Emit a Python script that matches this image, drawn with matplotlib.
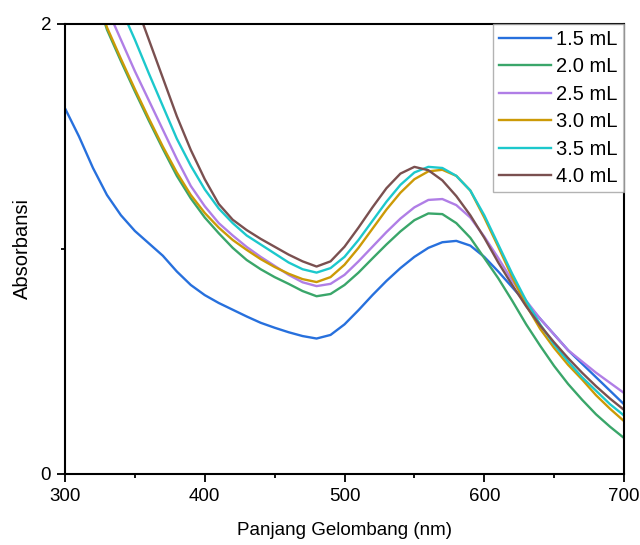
import matplotlib.pyplot as plt
import numpy as np

plt.rcParams['font.family'] = ['Liberation Sans', 'DejaVu Sans']

wl = np.arange(300, 701, 10)

a15 = [1.625, 1.50, 1.36, 1.24, 1.15, 1.08, 1.025, 0.97, 0.90, 0.84,
       0.795, 0.76, 0.73, 0.70, 0.672, 0.65, 0.63, 0.613, 0.602, 0.618,
       0.665, 0.728, 0.795, 0.858, 0.915, 0.965, 1.005, 1.03, 1.036, 1.015,
       0.965, 0.90, 0.83, 0.76, 0.69, 0.62, 0.55, 0.49, 0.43, 0.37, 0.31]
a20 = [2.52, 2.37, 2.17, 1.975, 1.835, 1.70, 1.57, 1.445, 1.325, 1.225,
       1.14, 1.07, 1.005, 0.951, 0.91, 0.875, 0.845, 0.813, 0.79, 0.80,
       0.84, 0.895, 0.958, 1.02, 1.078, 1.128, 1.158, 1.155, 1.115, 1.05,
       0.96, 0.87, 0.77, 0.665, 0.57, 0.48, 0.40, 0.33, 0.265, 0.21, 0.16]
a25 = [2.48, 2.35, 2.21, 2.07, 1.93, 1.79, 1.66, 1.53, 1.40, 1.28,
       1.19, 1.115, 1.06, 1.009, 0.965, 0.925, 0.885, 0.852, 0.835, 0.845,
       0.885, 0.945, 1.01, 1.075, 1.135, 1.185, 1.218, 1.222, 1.195, 1.14,
       1.055, 0.96, 0.86, 0.77, 0.69, 0.62, 0.55, 0.50, 0.45, 0.405, 0.36]
a30 = [2.53, 2.38, 2.18, 1.985, 1.845, 1.71, 1.58, 1.455, 1.34, 1.24,
       1.16, 1.095, 1.04, 0.996, 0.955, 0.92, 0.89, 0.866, 0.853, 0.875,
       0.93, 1.005, 1.09, 1.175, 1.25, 1.31, 1.345, 1.352, 1.325, 1.26,
       1.14, 1.01, 0.875, 0.75, 0.645, 0.56, 0.485, 0.42, 0.35, 0.29, 0.235]
a35 = [2.65, 2.52, 2.38, 2.22, 2.07, 1.93, 1.78, 1.635, 1.49, 1.37,
       1.265, 1.18, 1.115, 1.06, 1.02, 0.98, 0.94, 0.91, 0.895, 0.915,
       0.965, 1.04, 1.125, 1.21, 1.285, 1.34, 1.365, 1.36, 1.325, 1.26,
       1.15, 1.02, 0.89, 0.77, 0.665, 0.575, 0.50, 0.43, 0.37, 0.31, 0.26]
a40 = [2.85, 2.72, 2.58, 2.43, 2.27, 2.10, 1.93, 1.76, 1.59, 1.44,
       1.31, 1.20, 1.13, 1.084, 1.045, 1.01, 0.975, 0.945, 0.922, 0.945,
       1.01, 1.095, 1.185, 1.27, 1.335, 1.365, 1.35, 1.305, 1.235, 1.15,
       1.05, 0.94, 0.84, 0.745, 0.66, 0.585, 0.515, 0.45, 0.39, 0.335, 0.285]

labels = ['1.5 mL', '2.0 mL', '2.5 mL', '3.0 mL', '3.5 mL', '4.0 mL']
colors = ['#2770dd', '#3aa66a', '#b07ee6', '#cc9a06', '#1cc8cc', '#7a5050']
series = [a15, a20, a25, a30, a35, a40]

fig = plt.figure(figsize=(6.4, 5.45), dpi=100)
ax = fig.add_axes([0.1016, 0.1303, 0.8734, 0.8257])

for s, c, lb in zip(series, colors, labels):
    ax.plot(wl, s, color=c, lw=1.7, label=lb, solid_joinstyle='round')

ax.set_xlim(300, 700)
ax.set_ylim(0, 2)
ax.set_xticks([300, 400, 500, 600, 700])
ax.set_xticks([350, 450, 550, 650], minor=True)
ax.set_yticks([0, 2])
ax.set_yticks([1], minor=True)
ax.tick_params(which='major', direction='out', length=6, width=1.3,
               labelsize=13.5, pad=4)
ax.tick_params(which='minor', direction='out', length=3, width=1.3)
for sp in ax.spines.values():
    sp.set_linewidth(1.5)

ax.set_xlabel('Panjang Gelombang (nm)', fontsize=13.5, labelpad=12)
ax.set_ylabel('Absorbansi', fontsize=14.5, labelpad=6)

leg = ax.legend(loc='upper right', bbox_to_anchor=(1, 1), borderaxespad=0,
                fancybox=False, frameon=True, fontsize=14.5, handlelength=2.6,
                handletextpad=0.25, labelspacing=0.42, borderpad=0.3)
leg.get_frame().set_edgecolor('#a0a0a0')
leg.get_frame().set_linewidth(1.0)

fig.savefig('out.png', dpi=100)
